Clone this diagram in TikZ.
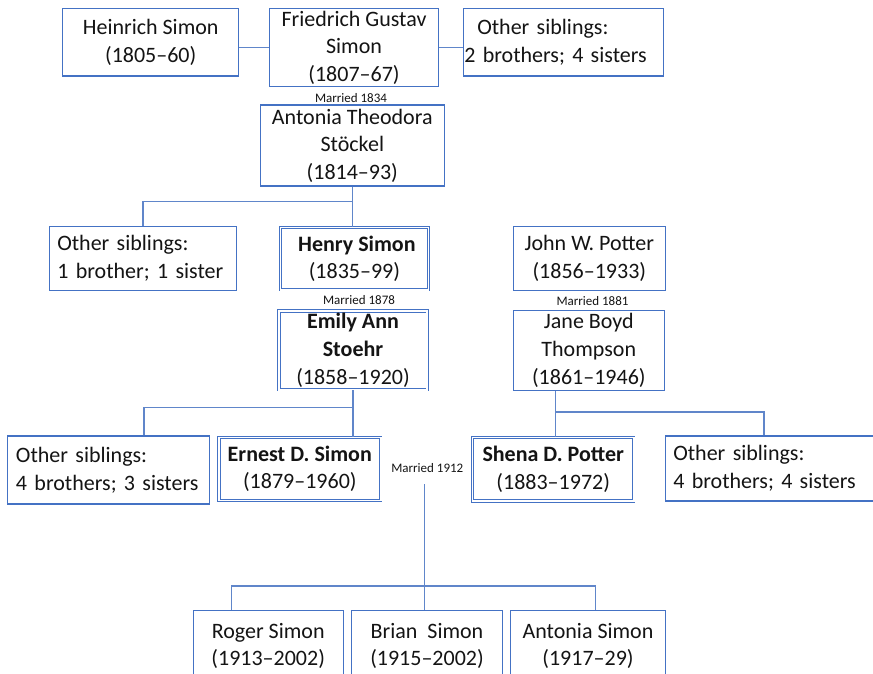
\documentclass[tikz,border=0pt]{standalone}
\usepackage{fontspec}
\setmainfont{Carlito}
\definecolor{boxc}{RGB}{68,114,196}
\definecolor{linkc}{RGB}{96,134,202}
\definecolor{txtc}{RGB}{20,20,20}
\begin{document}
\begin{tikzpicture}[x=1pt,y=-1pt]
\tikzset{
  box/.style={draw=boxc, line width=1.1pt, fill=white, inner sep=0pt, align=center,
    text=txtc, font=\fontsize{22}{27.6}\selectfont},
  dbox/.style={box, line width=0.8pt, double=white, double distance=1.6pt},
  lbox/.style={box, align=left},
  link/.style={draw=linkc, line width=1.2pt},
  marr/.style={inner sep=0pt, text=txtc, font=\fontsize{13}{15}\selectfont}
}
\useasboundingbox (0,0) rectangle (873,674);
\fill[white] (0,0) rectangle (873,674);
\clip (0,0) rectangle (873,674);

% generation 1
\node[box, minimum width=176, minimum height=67.7] (heinrich) at (150.7,42.2) {Heinrich Simon\\(1805--60)};
\node[box, minimum width=168.6, minimum height=78.4] (friedrich) at (354,47.5) {Friedrich Gustav\\Simon\\(1807--67)};
\node[lbox, minimum width=200, minimum height=67.7, text width=198, inner xsep=1pt] (oth1) at (563.3,42.2) {\mbox{\hspace*{13pt}Other siblings:}\\\mbox{2 brothers; 4 sisters}};
\node[marr] (m1834) at (351,97.7) {Married 1834};
\node[box, minimum width=184, minimum height=81] (antonia) at (352.3,145.5) {Antonia Theodora\\Stöckel\\(1814--93)};

% generation 2
\node[lbox, minimum width=187.4, minimum height=64.7, text width=171.4, inner xsep=8pt] (oth2) at (143,258.4) {\mbox{Other siblings:}\\\mbox{1 brother; 1 sister}};
\node[dbox, minimum width=148.1, minimum height=62.1] (henry) at (354.4,258.7) {\textbf{\hspace*{5pt}Henry Simon}\\(1835--99)};
\node[marr] (m1878) at (359,300) {Married 1878};
\node[dbox, minimum width=148.2, minimum height=78.8] (emily) at (353,350.3) {\textbf{Emily Ann}\\\textbf{Stoehr}\\(1858--1920)};
\node[box, minimum width=152, minimum height=64.7] (john) at (589.3,258.4) {John W. Potter\\(1856--1933)};
\node[marr] (m1881) at (592.5,301) {Married 1881};
\node[box, minimum width=151, minimum height=79.3] (jane) at (588.8,350.4) {Jane Boyd\\Thompson\\(1861--1946)};

% generation 3
\node[lbox, minimum width=202, minimum height=68, text width=184.6, inner xsep=8.7pt] (oth3) at (108.3,470) {\mbox{Other siblings:}\\\mbox{4 brothers; 3 sisters}};
\node[dbox, minimum width=161.8, minimum height=62.8] (ernest) at (299.8,469) {\textbf{Ernest D. Simon}\\(1879--1960)};
\node[marr] (m1912) at (427.3,467.7) {Married 1912};
\node[dbox, minimum width=161.1, minimum height=63.5] (shena) at (553.2,469.3) {\textbf{Shena D. Potter}\\(1883--1972)};
\node[lbox, minimum width=240, minimum height=65, text width=224, inner xsep=8pt] (oth4) at (785.3,468.5) {\mbox{Other siblings:}\\\mbox{4 brothers; 4 sisters}};

% generation 4
\node[box, minimum width=150.3, minimum height=70.3] (roger) at (268.2,645.8) {Roger Simon\\(1913--2002)};
\node[box, minimum width=150.6, minimum height=70.3] (brian) at (427,645.8) {Brian\ \ Simon\\(1915--2002)};
\node[box, minimum width=154.6, minimum height=70.3] (antonias) at (588,645.8) {Antonia Simon\\(1917--29)};

% connectors
\draw[link] (friedrich.west) -- (friedrich.west -| heinrich.east);
\draw[link] (friedrich.east) -- (friedrich.east -| oth1.west);
\coordinate (j1) at (352.3,201.7);
\draw[link] (antonia.south) -- (antonia.south |- henry.north);
\draw[link] (j1) -| (oth2.north);
\coordinate (j2) at (144,407.3);
\draw[link] (emily.south) -- (emily.south |- ernest.north);
\draw[link] (emily.south |- j2) -| (j2 |- oth3.north);
\coordinate (j3) at (555.7,412);
\coordinate (j4) at (764,436);
\draw[link] (j3 |- jane.south) -- (j3 |- shena.north);
\draw[link] (j3) -| (j4 |- oth4.north);
\coordinate (k0) at (424.3,484);
\coordinate (k1) at (231.7,586);
\coordinate (k2) at (595.3,586);
\draw[link] (k0) -- (k0 |- brian.north);
\draw[link] (k1 |- roger.north) -- (k1) -- (k2) -- (k2 |- antonias.north);
\end{tikzpicture}
\end{document}
